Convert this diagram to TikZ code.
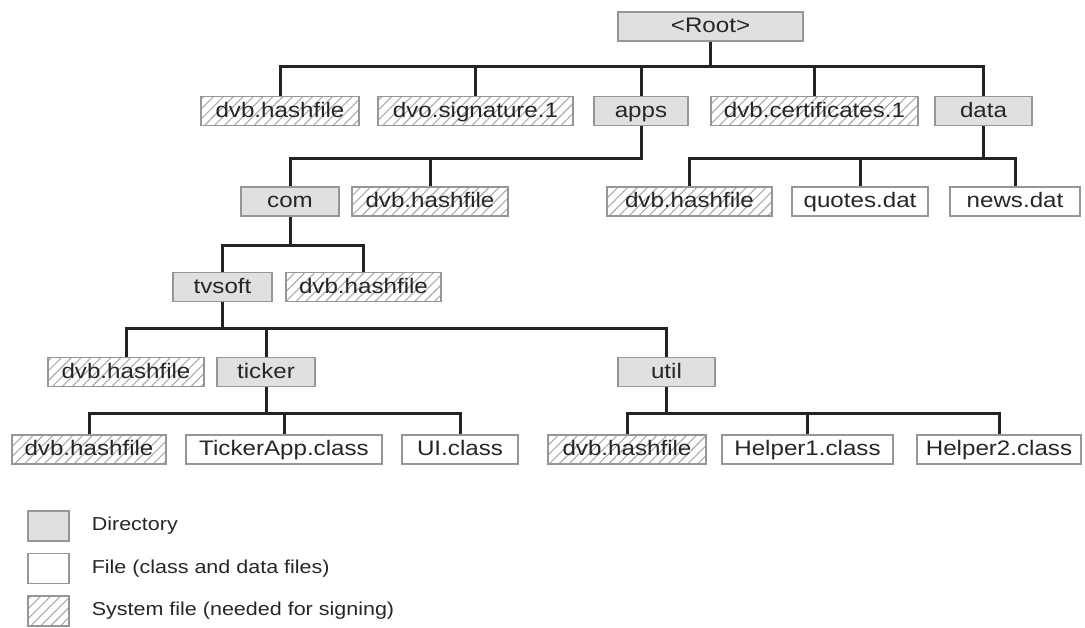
\documentclass[tikz,border=0pt]{standalone}
\usepackage{fontspec}
\setmainfont{Liberation Sans}[FakeStretch=1.15]
\usetikzlibrary{positioning,patterns.meta}
\definecolor{dirfill}{RGB}{224,224,224}
\definecolor{boxline}{RGB}{150,150,150}
\definecolor{linkcol}{RGB}{35,35,35}
\tikzset{
  box/.style={draw=boxline, line width=1.2pt, inner sep=0pt, minimum height=29pt,
    text height=16pt, text depth=4pt, text=black!85, font=\fontsize{21}{25}\selectfont},
  dirbox/.style={box, fill=dirfill},
  filebox/.style={box, fill=white},
  sysbox/.style={box, pattern={Lines[angle=45,distance=7pt,line width=1.1pt]}, pattern color=boxline!80},
  link/.style={draw=linkcol, line width=3pt},
  legtext/.style={inner sep=0pt, text=black!85, font=\fontsize{18.7}{23}\selectfont}
}
\begin{document}
\begin{tikzpicture}[x=1pt, y=-1pt, line join=miter]
\useasboundingbox (0,0) rectangle (1085,627);
% tree
\node[dirbox, minimum width=185] (root) at (710.5,26.5) {<Root>};
\node[sysbox, minimum width=158] (hashA) at (280,111) {dvb.hashfile};
\node[sysbox, minimum width=195] (sig) at (475.5,111) {dvo.signature.1};
\node[dirbox, minimum width=94] (apps) at (641,111) {apps};
\node[sysbox, minimum width=207] (cert) at (814.5,111) {dvb.certificates.1};
\node[dirbox, minimum width=97] (data) at (983.5,111) {data};
\node[dirbox, minimum width=98] (com) at (290,201.5) {com};
\node[sysbox, minimum width=156] (hashB) at (430,201.5) {dvb.hashfile};
\node[sysbox, minimum width=165] (hashC) at (689.5,201.5) {dvb.hashfile};
\node[filebox, minimum width=136] (quotes) at (860,201.5) {quotes.dat};
\node[filebox, minimum width=130] (news) at (1015,201.5) {news.dat};
\node[dirbox, minimum width=99] (tvsoft) at (222.5,287) {tvsoft};
\node[sysbox, minimum width=155] (hashD) at (363.5,287) {dvb.hashfile};
\node[sysbox, minimum width=156] (hashE) at (126,372) {dvb.hashfile};
\node[dirbox, minimum width=98] (ticker) at (266,372) {ticker};
\node[dirbox, minimum width=97] (util) at (666.5,372) {util};
\node[sysbox, minimum width=154] (hashF) at (89,449.5) {dvb.hashfile};
\node[filebox, minimum width=196] (tickapp) at (284,449.5) {TickerApp.class};
\node[filebox, minimum width=116] (ui) at (460,449.5) {UI.class};
\node[sysbox, minimum width=158] (hashG) at (627,449.5) {dvb.hashfile};
\node[filebox, minimum width=171] (help1) at (807.5,449.5) {Helper1.class};
\node[filebox, minimum width=164] (help2) at (999,449.5) {Helper2.class};
% connectors
\foreach \c in {hashA,sig,apps,cert,data}
  \draw[link] (root.south) -- ++(0,25) -| (\c.north);
\foreach \c in {com,hashB}
  \draw[link] (apps.south) -- ++(0,32) -| (\c.north);
\foreach \c in {hashC,quotes,news}
  \draw[link] (data.south) -- ++(0,32) -| (\c.north);
\foreach \c in {tvsoft,hashD}
  \draw[link] (com.south) -- ++(0,29) -| (\c.north);
\foreach \c in {hashE,ticker,util}
  \draw[link] (tvsoft.south) -- ++(0,26.5) -| (\c.north);
\foreach \c in {hashF,tickapp,ui}
  \draw[link] (ticker.south) -- ++(0,26) -| (\c.north);
\foreach \c in {hashG,help1,help2}
  \draw[link] (util.south) -- ++(0,26) -| (\c.north);
% legend
\node[dirbox, minimum width=41, minimum height=30] (keydir) at (48.5,526) {};
\node[filebox, minimum width=41, minimum height=30] (keyfile) at (48.5,568.5) {};
\node[sysbox, minimum width=41, minimum height=30] (keysys) at (48.5,611) {};
\node[legtext, right=22pt of keydir] (txtdir) {Directory};
\node[legtext, right=22pt of keyfile] (txtfile) {File (class and data files)};
\node[legtext, right=22pt of keysys] (txtsys) {System file (needed for signing)};
\end{tikzpicture}
\end{document}
